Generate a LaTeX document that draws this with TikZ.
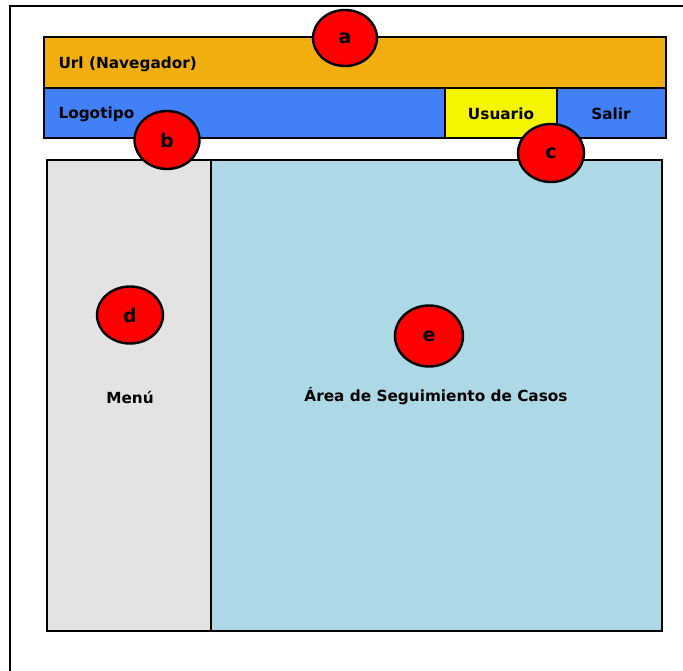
\documentclass[tikz,border=0pt]{standalone}
\usepackage{fontspec}
\setmainfont{DejaVu Sans}
\usetikzlibrary{shapes.geometric}
\definecolor{urlbar}{HTML}{F2AE0F}
\definecolor{headblue}{HTML}{4280F7}
\definecolor{userbox}{HTML}{F5F500}
\definecolor{menugrey}{HTML}{E3E3E3}
\definecolor{areablue}{HTML}{ADD8E6}
\begin{document}
\begin{tikzpicture}[x=1pt,y=-1pt,
  panel/.style={draw=black, line width=2.4pt, inner sep=0pt, outer sep=0pt},
  lbl/.style={font=\fontsize{15.3}{18}\selectfont\bfseries, text=black},
  marker/.style={ellipse, draw=black, line width=2.4pt, fill=red, inner sep=0pt,
    font=\fontsize{19}{22}\selectfont\bfseries}]
\useasboundingbox (0,0) rectangle (683,671);
% window frame
\draw[line width=2.4pt] (10,671) -- (10,6) -- (683,6);
% header rows
\filldraw[panel, fill=urlbar] (44,37) rectangle (666,88);
\filldraw[panel, fill=headblue] (44,88) rectangle (445,138);
\filldraw[panel, fill=userbox] (445,88) rectangle (557,138);
\filldraw[panel, fill=headblue] (557,88) rectangle (666,138);
% body panels
\filldraw[panel, fill=menugrey] (47,160) rectangle (211,631);
\filldraw[panel, fill=areablue] (211,160) rectangle (662,631);
% labels
\node[lbl, anchor=west] (url) at (55,64) {Url (Navegador)};
\node[lbl, anchor=west] (logo) at (55,114) {Logotipo};
\node[lbl] (usuario) at (501,114) {Usuario};
\node[lbl] (salir) at (611,114) {Salir};
\node[lbl] (menu) at (130,397) {Menú};
\node[lbl] (area) at (436,396) {Área de Seguimiento de Casos};
% markers
\node[marker, minimum width=64pt, minimum height=56pt] (ma) at (345,38) {a};
\node[marker, minimum width=65pt, minimum height=58pt] (mb) at (167,140) {b};
\node[marker, minimum width=66pt, minimum height=58pt] (mc) at (551,153) {c};
\node[marker, minimum width=66pt, minimum height=57pt] (md) at (130,315) {d};
\node[marker, minimum width=68pt, minimum height=61pt] (me) at (429,336) {e};
\end{tikzpicture}
\end{document}
